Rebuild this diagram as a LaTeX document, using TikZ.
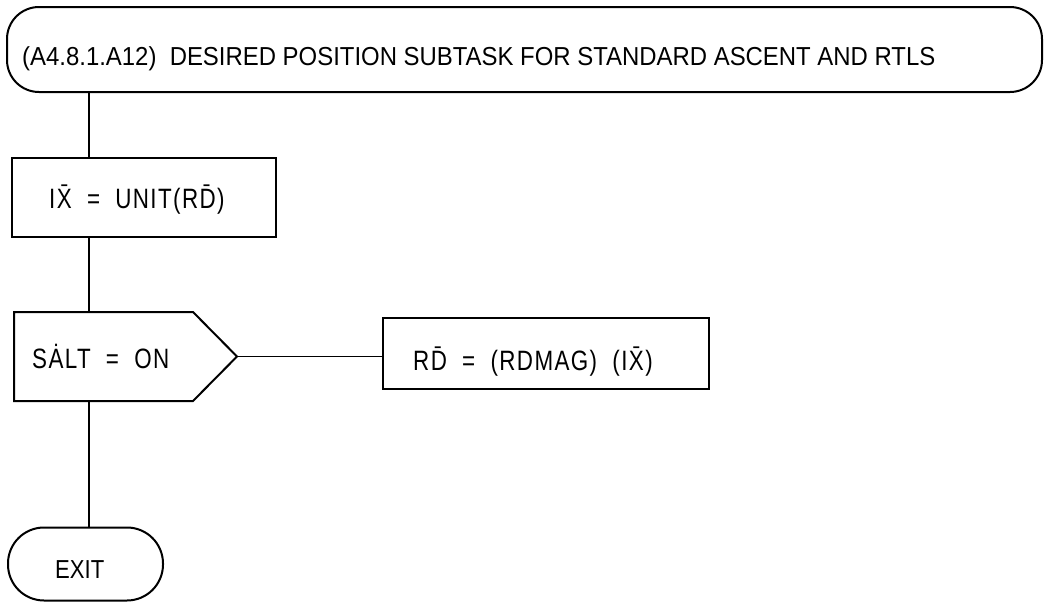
\documentclass[tikz,border=0pt]{standalone}
\usepackage{fontspec}
\setmainfont{Liberation Sans}
\newfontfamily\spc[FakeStretch=0.8,LetterSpace=5]{Liberation Sans}
\newfontfamily\nrw[FakeStretch=0.85]{Liberation Sans}
\newfontfamily\ttl[FakeStretch=0.92]{Liberation Sans}
\begin{document}
\begin{tikzpicture}[x=1pt,y=-1pt,
  shp/.style={draw=black, line width=2pt, inner sep=0pt},
  ln/.style={draw=black, line width=1.6pt},
  lbl/.style={anchor=base west, inner sep=0pt, font=\fontsize{28}{32}\selectfont\spc},
  ttlbl/.style={anchor=base west, inner sep=0pt, font=\fontsize{26}{30}\selectfont\ttl}]
\useasboundingbox (0,0) rectangle (1045,606);
\fill[white] (0,0) rectangle (1045,606);
% title terminal
\node[shp, rounded corners=32pt, minimum width=1035pt, minimum height=85pt] (top) at (524.5,49.5) {};
\node[ttlbl] (toptxt) at (22,65) {(A4.8.1.A12)\ \ DESIRED POSITION SUBTASK FOR STANDARD ASCENT AND RTLS};
% box 1
\node[shp, minimum width=264pt, minimum height=79pt] (b1) at (144,197.5) {};
\node[lbl] (b1txt) at (49,208) {I\=X\ \ =\ \ UNIT(R\=D)};
% decision
\coordinate (pnw) at (14,312);
\coordinate (pbev1) at (193,312);
\coordinate (ptip) at (237,356.5);
\coordinate (pbev2) at (193,401);
\coordinate (psw) at (14,401);
\draw[line width=2pt, line join=miter] (pnw) -- (pbev1) -- (ptip) -- (pbev2) -- (psw) -- cycle;
\coordinate (ptop) at (89,312);
\coordinate (pbot) at (89,401);
\node[lbl] (dtxt) at (32,368) {S\.ALT\ \ =\ \ ON};
% box 2
\node[shp, minimum width=326pt, minimum height=71pt] (b2) at (546,353.5) {};
\node[lbl] (b2txt) at (413,370) {R\=D\ \ =\ \ (RDMAG)\ \ (I\=X)};
% exit
\node[shp, rounded corners=36pt, minimum width=155pt, minimum height=73pt] (exit) at (85.5,564) {};
\node[anchor=base west, inner sep=0pt, font=\fontsize{26}{30}\selectfont\nrw] (exittxt) at (55,578) {EXIT};
% connectors
\draw[ln] (top.south -| ptop) -- (b1.north -| ptop);
\draw[ln] (b1.south -| ptop) -- (ptop);
\draw[ln] (ptip) -- (ptip -| b2.west);
\draw[ln] (pbot) -- (exit.north -| pbot);
\end{tikzpicture}
\end{document}
